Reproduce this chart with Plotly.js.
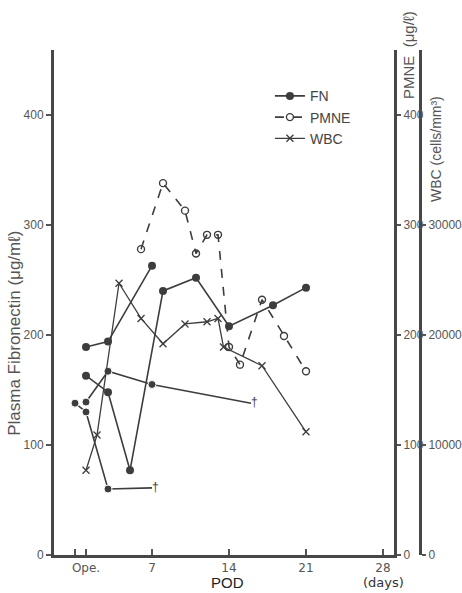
<!DOCTYPE html>
<html><head><meta charset="utf-8">
<script src="https://cdn.plot.ly/plotly-3.0.1.min.js"></script>
<style>html,body{margin:0;padding:0;background:#fff}</style>
</head><body><div id="chart" style="width:462px;height:593px"></div>
<script>
// Post-operative day (x); Ope. = day 1
const fnA_days = [1, 3, 7];
const fnA_vals = [189, 194, 263];
const fnB_days = [1, 3, 7, 16];
const fnB_vals = [139, 167, 155, 138];
const fnB_text = ['', '', '', '†'];
const fnC_days = [0, 1, 3, 7];
const fnC_vals = [138, 130, 60, 61];
const fnC_text = ['', '', '', '†'];
const fnD_days = [1, 3, 5, 8, 11, 14, 18, 21];
const fnD_vals = [163, 148, 77, 240, 252, 208, 227, 243];
const pmne_days = [6, 8, 10, 11, 12, 13, 14, 15, 17, 19, 21];
const pmne_vals = [278, 338, 313, 274, 291, 291, 189, 173, 232, 199, 167];
const wbc_days = [1, 2, 4, 6, 8, 10, 12, 13, 13.5, 17, 21];
const wbc_vals = [7700, 10900, 24700, 21500, 19200, 21000, 21200, 21500, 18900, 17200, 11200];
const xTickVals = [0, 1, 7, 14, 21, 28];
const xTickText = ['', 'Ope.', '7', '14', '21', '28'];
const fnTicks = [0, 100, 200, 300, 400];
const pmneTicks = [0, 100, 200, 300, 400];
const wbcTicks = [0, 10000, 20000, 30000];
const wbcTickText = ['0', '10000', '20000', '30000'];

const C = '#3d3d3d';
const fnLine = {color: C, width: 1.6};
const fnMarker = {symbol: 'circle', size: 8, color: C, opacity: 1};
const traces = [
  {x: fnA_days, y: fnA_vals, mode: 'lines+markers', name: 'FN', line: fnLine, marker: fnMarker, showlegend: true, legendrank: 1},
  {x: fnB_days, y: fnB_vals, mode: 'lines+markers+text', text: fnB_text, textposition: 'middle right',
   textfont: {size: 12, color: C}, line: fnLine, marker: {symbol: 'circle', size: [8, 8, 8, 0], color: C, opacity: 1}, showlegend: false},
  {x: fnC_days, y: fnC_vals, mode: 'lines+markers+text', text: fnC_text, textposition: 'middle right',
   textfont: {size: 12, color: C}, line: fnLine, marker: {symbol: 'circle', size: [8, 8, 8, 0], color: C, opacity: 1}, showlegend: false},
  {x: fnD_days, y: fnD_vals, mode: 'lines+markers', line: fnLine, marker: fnMarker, showlegend: false},
  {x: pmne_days, y: pmne_vals, yaxis: 'y2', mode: 'lines+markers', name: 'PMNE',
   line: {color: C, width: 1.6, dash: 'dash'},
   marker: {symbol: 'circle-open', size: 7, color: C, line: {width: 1.4, color: C}}, showlegend: true, legendrank: 2},
  {x: wbc_days, y: wbc_vals, yaxis: 'y3', mode: 'lines+markers', name: 'WBC',
   line: {color: C, width: 1.3},
   marker: {symbol: 'x-thin-open', size: 7, color: C, line: {width: 1.3, color: C}}, showlegend: true, legendrank: 3}
];

function tf() { return {family: 'Liberation Sans Narrow, Liberation Sans, sans-serif', size: 12, color: '#555'}; }
function axisLine() { return {showline: true, linewidth: 3, linecolor: '#474747', showgrid: false, zeroline: false, color: '#555'}; }
const layout = {
  width: 462, height: 593,
  margin: {l: 54, r: 42, t: 50, b: 38},
  paper_bgcolor: '#fff', plot_bgcolor: '#fff',
  colorway: [C],
  font: {family: 'Liberation Sans, sans-serif', color: '#555'},
  xaxis: Object.assign({
    domain: [0, 340/366], range: [-1.91, 29.0],
    tickmode: 'array', tickvals: xTickVals, ticktext: xTickText,
    ticks: 'inside', ticklen: 6, tickwidth: 1.2, tickcolor: '#555',
    tickfont: {family: 'DejaVu Sans, sans-serif', size: 12, color: '#555'}
  }, axisLine()),
  yaxis: Object.assign({
    range: [0, 459], tickmode: 'array', tickvals: fnTicks,
    ticks: 'outside', ticklen: 5, tickwidth: 1.2, tickcolor: '#555', tickfont: tf()
  }, axisLine()),
  yaxis2: Object.assign({
    overlaying: 'y', side: 'right', anchor: 'x',
    range: [0, 459], tickmode: 'array', tickvals: pmneTicks,
    ticks: 'outside', ticklen: 4, tickwidth: 1.2, tickcolor: '#555', tickfont: tf()
  }, axisLine()),
  yaxis3: Object.assign({
    overlaying: 'y', side: 'right', anchor: 'free', position: 1,
    range: [0, 45900], tickmode: 'array', tickvals: wbcTicks, ticktext: wbcTickText,
    ticks: 'outside', ticklen: 4, tickwidth: 1.2, tickcolor: '#555', tickfont: tf()
  }, axisLine()),
  legend: {x: 0.59, y: 0.94, xanchor: 'left', yanchor: 'top', bgcolor: 'rgba(0,0,0,0)',
    font: {family: 'Liberation Sans, Arial, sans-serif', size: 14, color: '#444'}, traceorder: 'normal'},
  annotations: [
    {text: 'Plasma Fibronectin (μg/mℓ)', xref: 'paper', yref: 'paper', x: -0.1066, y: 0.44,
     xanchor: 'center', yanchor: 'middle',
     textangle: -90, showarrow: false, font: {family: 'Liberation Sans Narrow, Liberation Sans, sans-serif', size: 17, color: '#555'}},
    {text: 'PMNE\u00a0\u00a0(μg/ℓ)', xref: 'paper', yref: 'paper', x: 0.967, y: 0.99,
     xanchor: 'center', yanchor: 'middle',
     textangle: -90, showarrow: false, font: {family: 'Liberation Sans, sans-serif', size: 15, color: '#555'}},
    {text: 'WBC\u00a0(cells/mm³)', xref: 'paper', yref: 'paper', x: 1.0437, y: 0.804,
     xanchor: 'center', yanchor: 'middle',
     textangle: -90, showarrow: false, font: {family: 'Liberation Sans, sans-serif', size: 14, color: '#555'}},
    {text: 'POD', xref: 'paper', yref: 'paper', x: 0.475, y: -0.0554,
     xanchor: 'center', yanchor: 'middle',
     showarrow: false, font: {family: 'Liberation Sans, Arial, sans-serif', size: 15, color: '#222'}},
    {text: '(days)', xref: 'paper', yref: 'paper', x: 0.899, y: -0.0554,
     xanchor: 'center', yanchor: 'middle',
     showarrow: false, font: {family: 'DejaVu Sans, sans-serif', size: 13, color: '#333'}}
  ]
};
Plotly.newPlot('chart', traces, layout, {staticPlot: true, displayModeBar: false});
</script></body></html>
